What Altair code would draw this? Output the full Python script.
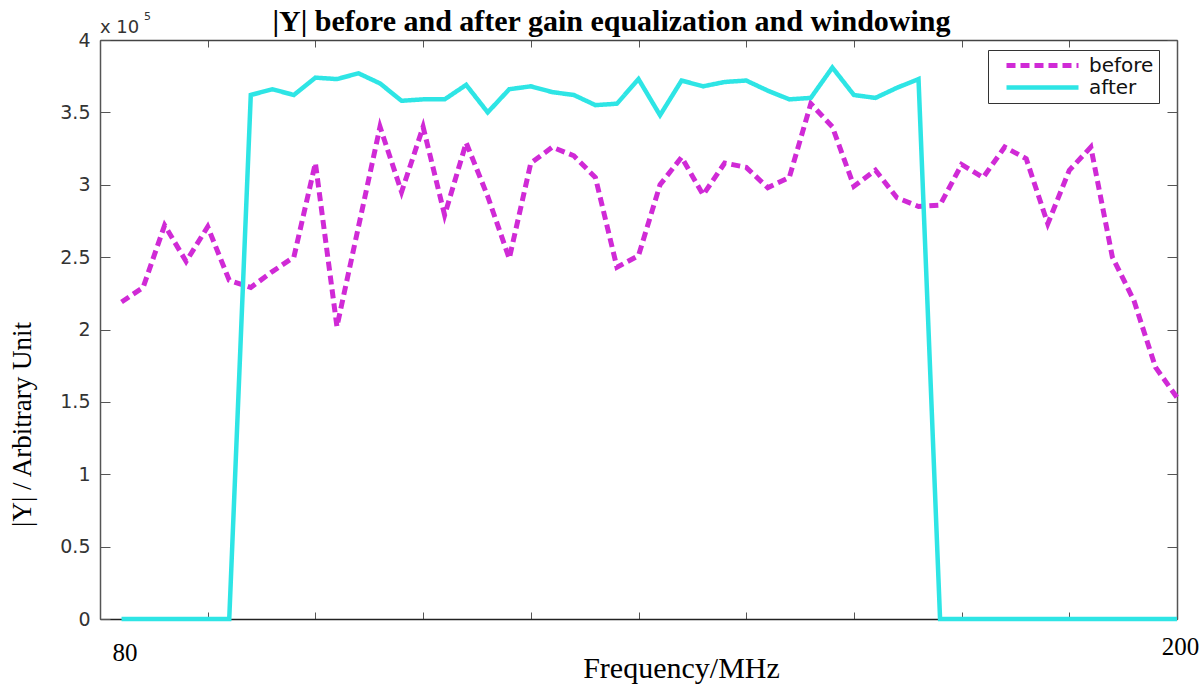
import altair as alt
import pandas as pd

# ---------------- data ----------------
FREQ = [82.4, 84.8, 87.2, 89.6, 92.0, 94.4, 96.8, 99.2, 101.6, 104.0,
        106.4, 108.8, 111.2, 113.6, 116.0, 118.4, 120.8, 123.2, 125.6, 128.0,
        130.4, 132.8, 135.2, 137.6, 140.0, 142.4, 144.8, 147.2, 149.6, 152.0,
        154.4, 156.8, 159.2, 161.6, 164.0, 166.4, 168.8, 171.2, 173.6, 176.0,
        178.4, 180.8, 183.2, 185.6, 188.0, 190.4, 192.8, 195.2, 197.6, 200.0]

# |Y| in units of 1e5
BEFORE = [2.19, 2.29, 2.72, 2.47, 2.71, 2.34, 2.29, 2.40, 2.50, 3.15,
          2.02, 2.71, 3.40, 2.95, 3.40, 2.79, 3.29, 2.92, 2.49, 3.15,
          3.26, 3.20, 3.05, 2.43, 2.51, 3.00, 3.19, 2.93, 3.15, 3.12,
          2.98, 3.05, 3.56, 3.40, 2.99, 3.10, 2.91, 2.85, 2.86, 3.14,
          3.05, 3.26, 3.18, 2.73, 3.10, 3.26, 2.50, 2.20, 1.74, 1.53]

AFTER = [0, 0, 0, 0, 0, 0, 3.62, 3.66, 3.62, 3.74,
         3.73, 3.77, 3.70, 3.58, 3.59, 3.59, 3.69, 3.50, 3.66, 3.68,
         3.64, 3.62, 3.55, 3.56, 3.73, 3.48, 3.72, 3.68, 3.71, 3.72,
         3.65, 3.59, 3.60, 3.81, 3.62, 3.60, 3.67, 3.73, 0, 0,
         0, 0, 0, 0, 0, 0, 0, 0, 0, 0]

SERIES = ["before", "after"]
COLORS = ["#d02ad6", "#2ee5e5"]
X_TICKS = [80, 92, 104, 116, 128, 140, 152, 164, 176, 188, 200]
Y_TICKS = [0, 0.5, 1, 1.5, 2, 2.5, 3, 3.5, 4]
TITLE = "|Y| before and after gain equalization and windowing"
X_TITLE = "Frequency/MHz"
Y_TITLE = "|Y| / Arbitrary Unit"
EXP_BASE = "x 10"
EXP_POWER = "5"

rows = []
for f, v in zip(FREQ, BEFORE):
    rows.append({"freq": f, "value": v, "series": "before"})
for f, v in zip(FREQ, AFTER):
    rows.append({"freq": f, "value": v, "series": "after"})
df = pd.DataFrame(rows)

xscale = alt.Scale(domain=[80, 200], nice=False, zero=False)
yscale = alt.Scale(domain=[0, 4], nice=False, zero=True)

legend = alt.Legend(
    title=None, orient="none", legendX=888, legendY=10,
    strokeColor="#333", fillColor="white", padding=5, cornerRadius=0,
    symbolType="M-4.5,0H4.5", symbolSize=256, symbolStrokeWidth=5,
    symbolOffset=39, symbolFillColor="transparent",
    labelFont="DejaVu Sans", labelFontSize=20, labelColor="#111",
    labelOffset=36, rowPadding=1,
    labelExpr="datum.label + '  '",
)
color = alt.Color("series:N", scale=alt.Scale(domain=SERIES, range=COLORS), legend=legend)
dash = alt.StrokeDash("series:N", scale=alt.Scale(domain=SERIES, range=[[9, 5], [1, 0]]), legend=legend)
width_enc = alt.StrokeWidth("series:N", scale=alt.Scale(domain=SERIES, range=[5, 4.5]), legend=None)

x_bottom = alt.X(
    "freq:Q", scale=xscale, title=X_TITLE,
    axis=alt.Axis(
        orient="bottom", values=X_TICKS, grid=False,
        labelExpr="(datum.value == 80 || datum.value == 200) ? datum.label : ''",
        labelFont="Liberation Serif", labelFontSize=25, labelColor="black",
        labelBaseline="top",
        labelAlign={"condition": {"test": "datum.value == 80", "value": "left"}, "value": "center"},
        labelOffset={"condition": {"test": "datum.value == 80", "value": 12}, "value": 3},
        labelPadding={"condition": {"test": "datum.value == 80", "value": 28}, "value": 22},
        tickSize=alt.ExprRef(expr="-7"), tickColor="#555", tickWidth=1,
        domainColor="#222", domainWidth=1.5,
        titleFont="Liberation Serif", titleFontSize=30, titleFontWeight="normal",
        titleColor="black", titleX=581, titleY=58, titleAlign="center",
        titleBaseline="alphabetic",
    ),
)
y_left = alt.Y(
    "value:Q", scale=yscale, title=Y_TITLE,
    axis=alt.Axis(
        orient="left", values=Y_TICKS, grid=False, format="~g",
        labelFont="DejaVu Sans", labelFontSize=19, labelColor="#333",
        labelPadding=20, tickSize=alt.ExprRef(expr="-10"), tickColor="#555",
        domainColor="#555", domainWidth=1.5,
        titleFont="Liberation Serif", titleFontSize=27, titleFontWeight="normal",
        titleColor="black", titleX=-78, titleY=384, titleAngle=270,
        titleAlign="center", titleBaseline="middle",
    ),
)
x_top = alt.X(
    "freq:Q", scale=xscale, title=None,
    axis=alt.Axis(orient="top", values=X_TICKS, grid=False, labels=False,
                  tickSize=alt.ExprRef(expr="-7"), tickColor="#555",
                  domainColor="#444", domainWidth=1.5),
)
y_right = alt.Y(
    "value:Q", scale=yscale, title=None,
    axis=alt.Axis(orient="right", values=Y_TICKS, grid=False, labels=False,
                  tickSize=alt.ExprRef(expr="-10"), tickColor="#555",
                  domainColor="#555", domainWidth=1.5),
)

before_line = alt.Chart(df).transform_filter(alt.datum.series == "before").mark_line(
    strokeCap="butt", strokeJoin="miter"
).encode(x=x_bottom, y=y_left, color=color, strokeDash=dash, strokeWidth=width_enc)

after_line = alt.Chart(df).transform_filter(alt.datum.series == "after").mark_line(
    strokeJoin="miter"
).encode(x=x_top, y=y_right, color=color, strokeDash=dash, strokeWidth=width_enc)

exp_base = alt.Chart(pd.DataFrame({"t": [EXP_BASE]})).mark_text(
    font="DejaVu Sans", fontSize=18, color="#333", align="left", baseline="alphabetic"
).encode(text="t:N", x=alt.value(0), y=alt.value(-7))

exp_power = alt.Chart(pd.DataFrame({"t": [EXP_POWER]})).mark_text(
    font="DejaVu Sans", fontSize=11, color="#333", align="left", baseline="alphabetic"
).encode(text="t:N", x=alt.value(44), y=alt.value(-20))

chart = alt.layer(before_line, after_line, exp_base, exp_power).resolve_axis(
    x="independent", y="independent"
).properties(
    width=1077, height=579,
    autosize=alt.AutoSizeParams(type="none"),
    padding={"left": 100, "top": 40, "right": 26, "bottom": 68},
    title=alt.Title(TITLE, font="Liberation Serif", fontSize=30, fontWeight="bold",
                    anchor="middle", frame="group", dx=-27, dy=30, offset=4, color="black"),
).configure_view(stroke="#555", strokeWidth=1.5).configure(background="white")

chart.save("out.html", embed_options={"renderer": "svg", "actions": False})
